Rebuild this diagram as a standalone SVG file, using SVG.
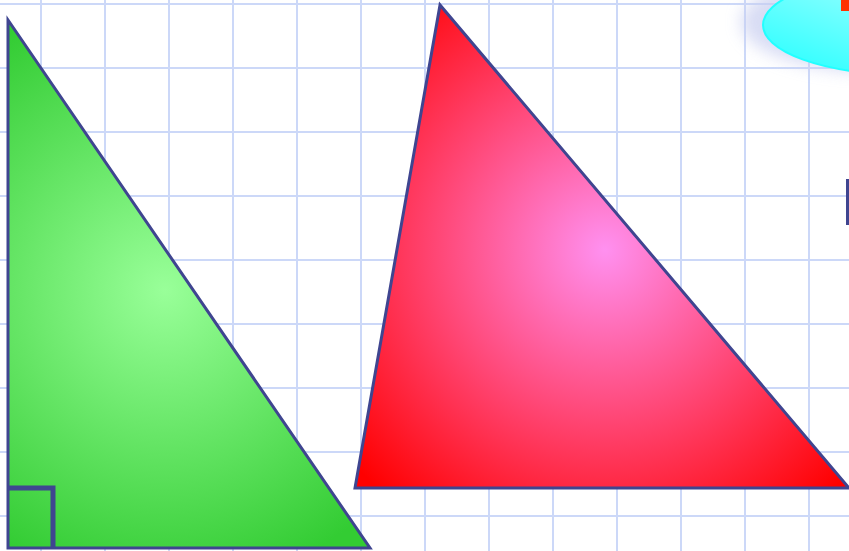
<svg xmlns="http://www.w3.org/2000/svg" width="849" height="551" viewBox="0 0 849 551">
<style>
.grid line{stroke:#ccd8f8;stroke-width:2}
.tri{stroke:#3f4590;stroke-width:3;stroke-linejoin:miter}
</style>
<defs>
<radialGradient id="gG" gradientUnits="userSpaceOnUse" cx="165" cy="290" r="300">
<stop offset="0" stop-color="#99ff99"/>
<stop offset="1" stop-color="#33cc33"/>
</radialGradient>
<radialGradient id="gR" gradientUnits="userSpaceOnUse" cx="605" cy="250" r="330">
<stop offset="0" stop-color="#ff90f0"/>
<stop offset="1" stop-color="#ff0000"/>
</radialGradient>
<linearGradient id="gC" x1="0" y1="1" x2="1" y2="0">
<stop offset="0" stop-color="#22ffff"/>
<stop offset="1" stop-color="#ccffff"/>
</linearGradient>
<filter id="sh" x="-50%" y="-50%" width="200%" height="200%">
<feGaussianBlur stdDeviation="8"/>
</filter>
</defs>
<rect width="849" height="551" fill="#ffffff"/>
<g class="grid">
<line x1="41" y1="0" x2="41" y2="551"/>
<line x1="105" y1="0" x2="105" y2="551"/>
<line x1="169" y1="0" x2="169" y2="551"/>
<line x1="233" y1="0" x2="233" y2="551"/>
<line x1="297" y1="0" x2="297" y2="551"/>
<line x1="361" y1="0" x2="361" y2="551"/>
<line x1="425" y1="0" x2="425" y2="551"/>
<line x1="489" y1="0" x2="489" y2="551"/>
<line x1="553" y1="0" x2="553" y2="551"/>
<line x1="617" y1="0" x2="617" y2="551"/>
<line x1="681" y1="0" x2="681" y2="551"/>
<line x1="745" y1="0" x2="745" y2="551"/>
<line x1="809" y1="0" x2="809" y2="551"/>
<line x1="0" y1="4" x2="849" y2="4"/>
<line x1="0" y1="68" x2="849" y2="68"/>
<line x1="0" y1="132" x2="849" y2="132"/>
<line x1="0" y1="196" x2="849" y2="196"/>
<line x1="0" y1="260" x2="849" y2="260"/>
<line x1="0" y1="324" x2="849" y2="324"/>
<line x1="0" y1="388" x2="849" y2="388"/>
<line x1="0" y1="452" x2="849" y2="452"/>
<line x1="0" y1="516" x2="849" y2="516"/>
</g>
<g id="cyan-ellipse">
<ellipse cx="890" cy="20" rx="135" ry="50" fill="#c8cef0" opacity="0.7" filter="url(#sh)" transform="translate(-14,2)"/>
<ellipse cx="900" cy="25" rx="137" ry="49" fill="url(#gC)" stroke="#22ffff" stroke-width="2"/>
<rect x="841" y="0" width="8" height="11" fill="#ff3300"/>
</g>
<g id="blue-bar">
<rect x="846" y="179" width="3" height="46" fill="#3f4590"/>
</g>
<g id="green-triangle">
<polygon class="tri" points="8,20 8,548 370,548" fill="url(#gG)"/>
<polyline points="8,488 53,488 53,548" fill="none" stroke="#3f4590" stroke-width="5"/>
</g>
<g id="red-triangle">
<polygon class="tri" points="440,5 355,488 849,488" fill="url(#gR)"/>
</g>
</svg>
